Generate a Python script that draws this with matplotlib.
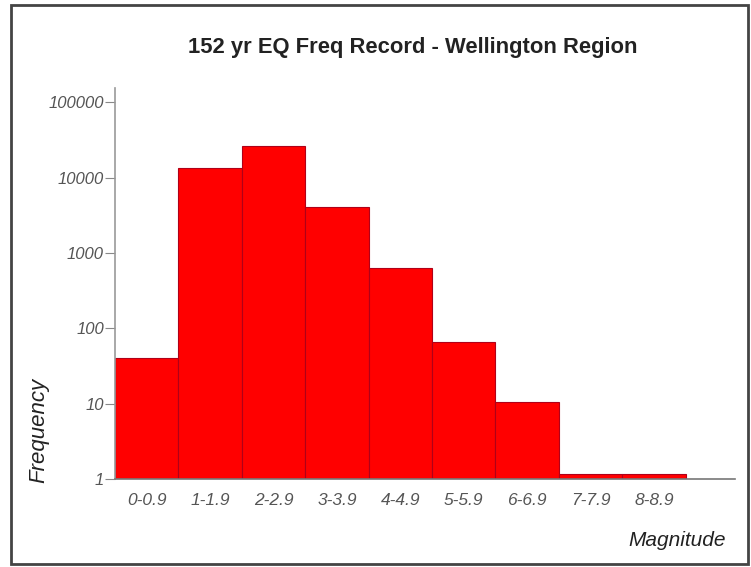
import matplotlib
matplotlib.use("Agg")
import matplotlib.pyplot as plt
from matplotlib.patches import Rectangle

magnitudes = ['0-0.9', '1-1.9', '2-2.9', '3-3.9', '4-4.9', '5-5.9', '6-6.9', '7-7.9', '8-8.9']
frequency = [40, 13300, 26100, 4050, 630, 66, 10.5, 1.17, 1.17]
ytick_vals = [1, 10, 100, 1000, 10000, 100000]
ytick_labels = ['1', '10', '100', '1000', '10000', '100000']

fam = ['Liberation Sans Narrow', 'Liberation Sans', 'DejaVu Sans']
plt.rcParams['font.family'] = fam

fig = plt.figure(figsize=(7.51, 5.67), dpi=100)
ax = fig.add_axes([115/751, 1 - 479/567, 620/751, 391/567])

x = list(range(len(magnitudes)))
ax.bar([i + 0.5 for i in x], frequency, width=1.0, color='#ff0000',
       edgecolor='#b00018', linewidth=0.8)

ax.set_yscale('log')
ax.set_ylim(1, 10**5.19)
ax.set_xlim(0, 9.78)
ax.set_yticks(ytick_vals)
ax.set_yticklabels(ytick_labels)
ax.yaxis.set_minor_locator(matplotlib.ticker.NullLocator())
ax.set_xticks([i + 0.5 for i in x])
ax.set_xticklabels(magnitudes)

for s in ['top', 'right']:
    ax.spines[s].set_visible(False)
ax.spines['left'].set_color('#999999')
ax.spines['bottom'].set_color('#777777')
ax.spines['left'].set_linewidth(1.2)
ax.spines['bottom'].set_linewidth(1.2)

ax.tick_params(axis='y', length=7, color='#888888', labelsize=12, labelcolor='#555555', pad=1)
ax.tick_params(axis='x', length=0, labelsize=12.5, labelcolor='#555555', pad=10)
for lab in ax.get_xticklabels() + ax.get_yticklabels():
    lab.set_style('italic')

fig.text(413/751, 1 - 47/567, '152 yr EQ Freq Record - Wellington Region',
         ha='center', va='center', fontsize=15.8, fontweight='bold', color='#222222')
fig.text(677/751, 1 - 540/567, 'Magnitude', ha='center', va='center',
         fontsize=15, style='italic', color='#222222')
fig.text(39/751, 1 - 430/567, 'Frequency', ha='center', va='center',
         fontsize=16, style='italic', rotation=90, color='#222222')

fig.add_artist(Rectangle((11/751, 3/567), 737/751, 559/567, transform=fig.transFigure,
                         fill=False, edgecolor='#444444', linewidth=2))

fig.savefig('out.png', dpi=100)
